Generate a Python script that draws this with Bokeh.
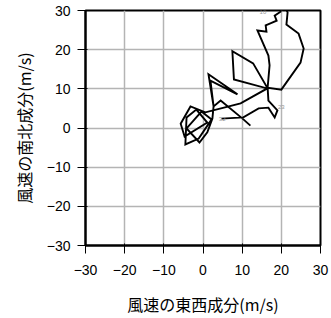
from bokeh.plotting import figure
from bokeh.models import Range1d, FixedTicker
from bokeh.embed import file_html
from bokeh.resources import INLINE
from bokeh.core.properties import value

# Wind components (m/s)
u_east = [4.7, 10.3, 14.2, 16.7, 18.3, 19.0, 16.7, 16.5, 17.0, 16.7,
          13.9, 16.2, 16.0, 17.2, 18.8, 18.3, 19.8, 20.6, 21.6, 21.3,
          24.4, 25.7, 24.9, 20.0, 16.4, 12.8, 7.5, 7.9, 16.4, 9.6,
          0.6, -3.2, -5.7, -4.7, 1.1, -1.7, -4.2, -4.5, -1.1, 2.2,
          -0.4, -4.2, -0.9, 1.1, 2.4, 2.7, 1.4, 8.8, 1.9, 2.7,
          4.5, 10.1, 12.1]
v_north = [2.4, 2.7, 5.0, 5.2, 2.7, 4.5, 7.0, 10.3, 16.0, 18.5,
           24.9, 24.6, 26.2, 26.7, 27.4, 28.7, 29.7, 31.8, 29.5, 26.4,
           24.1, 20.3, 16.7, 9.8, 10.3, 16.5, 19.6, 12.4, 10.1, 6.3,
           4.0, 5.5, 1.1, -2.2, 1.4, 4.7, 2.7, -4.2, -2.7, 2.2,
           4.2, -0.1, -3.7, -1.1, 2.4, 5.5, 13.7, 8.6, 12.1, 5.5,
           7.0, 2.4, 0.6]

label_text = ["10", "23", "32"]
label_u = [15.3, 20.0, 4.9]
label_v = [29.6, 5.4, 2.4]

ticks = [-30, -20, -10, 0, 10, 20, 30]

p = figure(width=331, height=318, output_backend="svg", toolbar_location=None,
           x_range=Range1d(-30, 30), y_range=Range1d(-30, 30),
           min_border_left=85, min_border_right=11, min_border_top=10,
           min_border_bottom=73)

p.outline_line_color = "black"
p.outline_line_width = 2
p.background_fill_color = "white"
p.border_fill_color = "white"

for ax in (p.xaxis[0], p.yaxis[0]):
    ax.ticker = FixedTicker(ticks=ticks)
    ax.minor_tick_line_color = None
    ax.major_tick_in = 2
    ax.major_tick_out = 8
    ax.major_tick_line_color = "black"
    ax.major_tick_line_width = 1
    ax.axis_line_color = "black"
    ax.axis_line_width = 2
    ax.major_label_text_font = "Liberation Sans"
    ax.major_label_text_font_size = "14px"
    ax.major_label_text_color = "black"
    ax.axis_label_text_font = "Noto Sans CJK JP"
    ax.axis_label_text_font_size = "16px"
    ax.axis_label_text_font_style = "normal"
    ax.axis_label_text_color = "black"

p.xaxis.axis_label = "風速の東西成分(m/s)"
p.yaxis.axis_label = "風速の南北成分(m/s)"
p.xaxis.major_label_standoff = 11
p.yaxis.major_label_standoff = 7
p.xaxis.axis_label_standoff = 14
p.yaxis.axis_label_standoff = 8
p.xaxis.major_label_overrides = {t: str(t).replace("-", "\u2212") for t in ticks}
p.yaxis.major_label_overrides = {t: str(t).replace("-", "\u2212") for t in ticks}

p.xgrid.ticker = FixedTicker(ticks=ticks)
p.ygrid.ticker = FixedTicker(ticks=ticks)
p.grid.grid_line_color = "#b4b4b4"
p.grid.grid_line_width = 1.5
p.grid.grid_line_alpha = 1.0

p.line(u_east, v_north, line_color="black", line_width=1.9, line_join="miter")

p.text(x=label_u, y=label_v, text=label_text, text_font=value("Liberation Sans"),
       text_font_size="6px", text_color="#999999", text_align="center",
       text_baseline="middle")

open("out.html", "w").write(file_html(p, INLINE))
